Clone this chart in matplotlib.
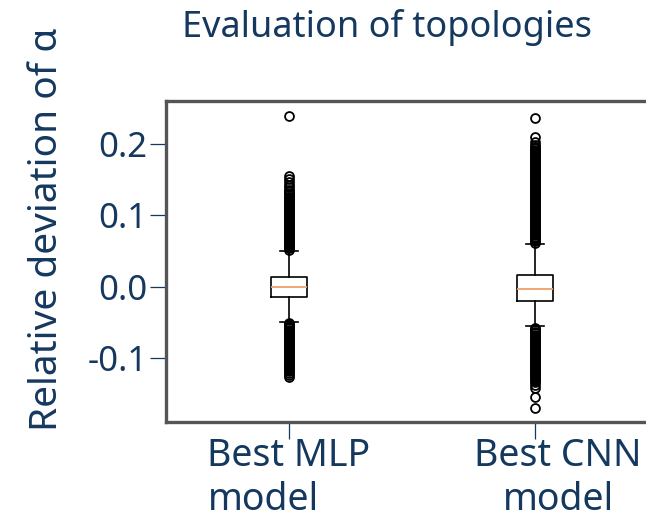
# Boxplot of the relative deviation of alpha for the two best topologies

import matplotlib
matplotlib.use("Agg")
import matplotlib.pyplot as plt
import matplotlib.transforms as mtransforms

plt.rcParams['font.family'] = ['Noto Sans', 'DejaVu Sans']

navy = '#15385f'

models = ["Best MLP\nmodel", "Best CNN\nmodel"]
positions = [1, 2]

# quartiles, median and whisker ends
medians = [0.000, -0.0024]
q1s = [-0.0136, -0.0192]
q3s = [0.0144, 0.0173]
whis_low = [-0.0485, -0.0550]
whis_high = [0.0508, 0.0594]

mlp_fliers = [
    0.239, 0.155, 0.151, 0.147, 0.143, 0.140,
    0.136, 0.134, 0.132, 0.130, 0.128, 0.126, 0.124, 0.122, 0.120, 0.118,
    0.116, 0.114, 0.112, 0.110, 0.108, 0.106, 0.104, 0.102, 0.100, 0.098,
    0.096, 0.094, 0.092, 0.090, 0.088, 0.086, 0.084, 0.082, 0.080, 0.078,
    0.076, 0.074, 0.072, 0.070, 0.068, 0.066, 0.064, 0.062, 0.060, 0.058,
    0.056, 0.054, 0.052,
    -0.050, -0.052, -0.054, -0.056, -0.058, -0.060, -0.062, -0.064, -0.066,
    -0.068, -0.070, -0.072, -0.074, -0.076, -0.078, -0.080, -0.082, -0.084,
    -0.086, -0.088, -0.090, -0.092, -0.094, -0.096, -0.098, -0.100, -0.102,
    -0.104, -0.106, -0.108, -0.110, -0.112, -0.114, -0.116, -0.118, -0.120,
    -0.123, -0.126,
]
cnn_fliers = [
    0.236, 0.210, 0.203,
    0.198, 0.196, 0.194, 0.192, 0.190, 0.188, 0.186, 0.184, 0.182, 0.180,
    0.178, 0.176, 0.174, 0.172, 0.170, 0.168, 0.166, 0.164, 0.162, 0.160,
    0.158, 0.156, 0.154, 0.152, 0.150, 0.148, 0.146, 0.144, 0.142, 0.140,
    0.138, 0.136, 0.134, 0.132, 0.130, 0.128, 0.126, 0.124, 0.122, 0.120,
    0.118, 0.116, 0.114, 0.112, 0.110, 0.108, 0.106, 0.104, 0.102, 0.100,
    0.098, 0.096, 0.094, 0.092, 0.090, 0.088, 0.086, 0.084, 0.082, 0.080,
    0.078, 0.076, 0.074, 0.072, 0.070, 0.068, 0.066, 0.064, 0.062,
    -0.057, -0.059, -0.061, -0.063, -0.065, -0.067, -0.069, -0.071, -0.073,
    -0.075, -0.077, -0.079, -0.081, -0.083, -0.085, -0.087, -0.089, -0.091,
    -0.093, -0.095, -0.097, -0.099, -0.101, -0.103, -0.105, -0.107, -0.109,
    -0.111, -0.113, -0.115, -0.117, -0.119, -0.121, -0.123, -0.125, -0.127,
    -0.129, -0.131, -0.133, -0.137, -0.141, -0.154, -0.170,
]
fliers = [mlp_fliers, cnn_fliers]

yticks = [-0.1, 0.0, 0.1, 0.2]
ytick_labels = ["-0.1", "0.0", "0.1", "0.2"]

stats = []
for i in range(len(models)):
    stats.append({
        'med': medians[i], 'q1': q1s[i], 'q3': q3s[i],
        'whislo': whis_low[i], 'whishi': whis_high[i],
        'fliers': fliers[i],
    })

fig = plt.figure(figsize=(6.46, 5.12), dpi=100)
ax = fig.add_axes([166 / 646, 1 - 422 / 512, 492 / 646, 321 / 512])

ax.bxp(stats, positions=positions, widths=0.15,
       boxprops=dict(color='black', linewidth=1.2),
       whiskerprops=dict(color='black', linewidth=1.2),
       capprops=dict(color='black', linewidth=1.2),
       medianprops=dict(color='#f0a06a', linewidth=1.3),
       flierprops=dict(marker='o', markersize=6.4, markerfacecolor='none',
                       markeredgecolor='black', markeredgewidth=1.3))

ax.set_xlim(0.5, 2.5)
ax.set_ylim(-0.189, 0.260)

ax.set_yticks(yticks)
ax.set_yticklabels(ytick_labels)
ax.set_xticks(positions)
ax.set_xticklabels(models)

ax.tick_params(axis='y', length=11.5, width=0.9, color=navy, pad=2,
               labelsize=25, labelcolor=navy)
ax.tick_params(axis='x', length=12, width=0.9, color=navy, pad=-1,
               labelsize=27, labelcolor=navy)

xlabels = ax.get_xticklabels()
xlabels[0].set_multialignment('left')
xlabels[1].set_multialignment('center')
xlabels[1].set_transform(xlabels[1].get_transform() +
                         mtransforms.ScaledTranslation(23 / 100, 0, fig.dpi_scale_trans))

for side in ax.spines:
    ax.spines[side].set_color('#555555')
    ax.spines[side].set_linewidth(2.4)

fig.text(387 / 646, 1 - 37 / 512, "Evaluation of topologies", ha='center',
         va='baseline', fontsize=26, color=navy)
fig.text(47 / 646, 1 - 229 / 512, "Relative deviation of α", rotation=90,
         ha='center', va='center', fontsize=28, color=navy)

fig.savefig('out.png', dpi=100)
